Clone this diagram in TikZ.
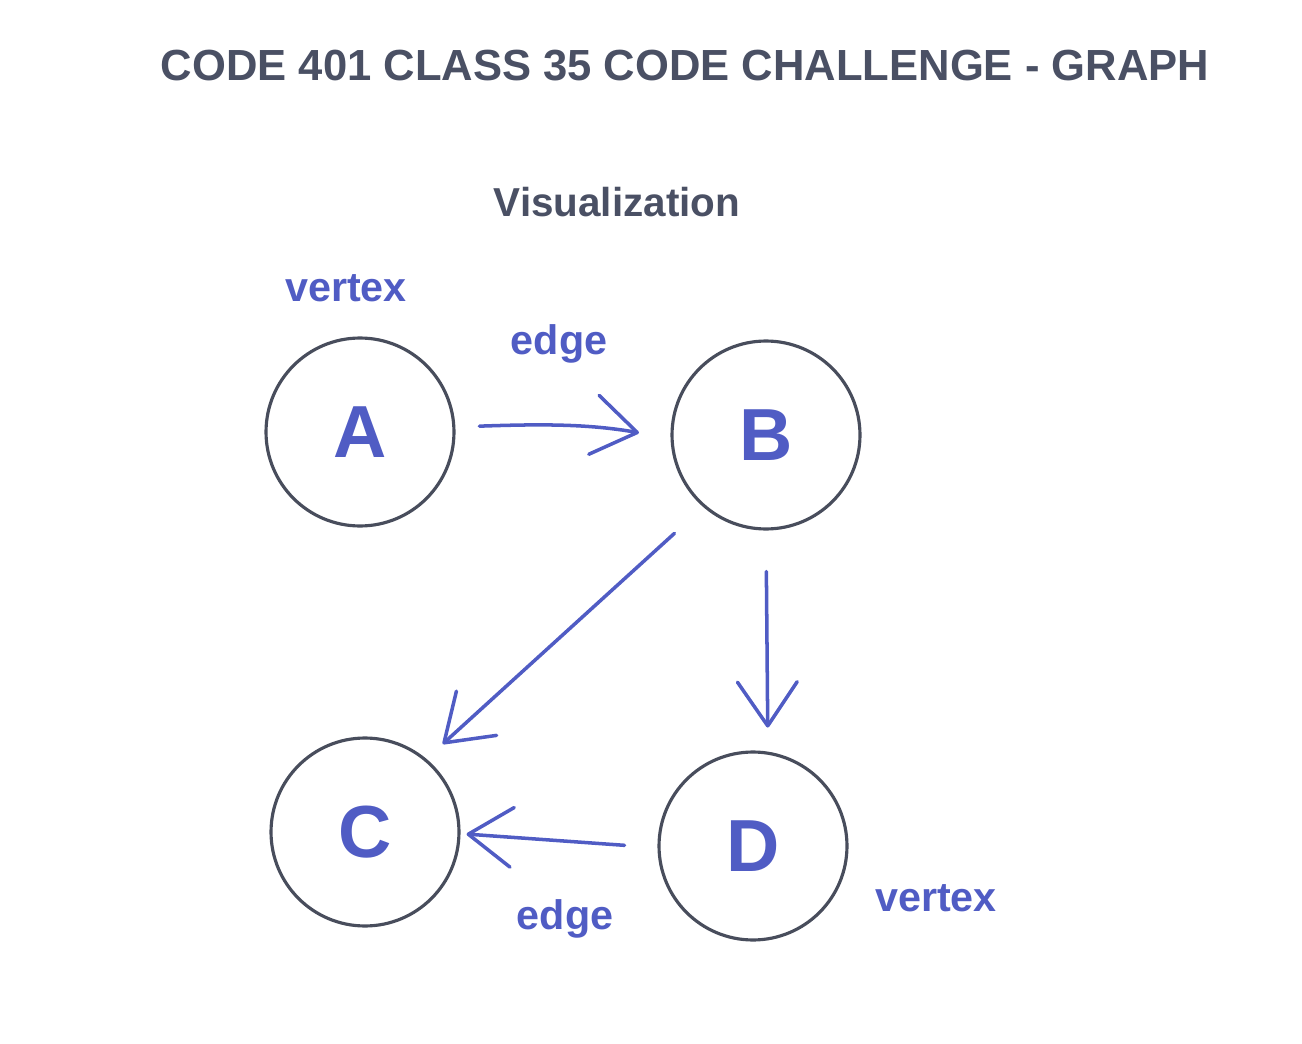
\documentclass[tikz,border=0pt]{standalone}
\usepackage{fontspec}
\setmainfont{Liberation Sans}
\usepackage{tikz}
\usetikzlibrary{arrows.meta}
\usepackage{xcolor}
\definecolor{inkgray}{RGB}{74,80,100}
\definecolor{ringgray}{RGB}{72,77,92}
\definecolor{penblue}{RGB}{80,92,196}

\tikzset{
  vertexnode/.style={circle,draw=ringgray,line width=1.8pt,minimum size=3.76cm,inner sep=0pt,
    text=penblue,font=\fontsize{42}{50}\selectfont\bfseries},
  note/.style={anchor=base,text=penblue,font=\fontsize{23.5}{28}\selectfont\bfseries},
  edgeline/.style={draw=penblue,line width=2pt,line cap=round,
    -{Straight Barb[length=25pt,width=34pt,line width=2pt,round]}}
}

\begin{document}
\begin{tikzpicture}[x=0.02cm,y=0.02cm]
        \useasboundingbox (0,0) rectangle (1302,-1044);
        \node [anchor=base,text=inkgray,font=\fontsize{24.8}{30}\selectfont\bfseries] (title) at (685,-81) {CODE 401 CLASS 35 CODE CHALLENGE - GRAPH};
        \node [anchor=base,text=inkgray,font=\fontsize{23}{28}\selectfont\bfseries] (vis) at (617,-217) {Visualization};

        \node [vertexnode] (1) at (360,-432) {A};
        \node [vertexnode] (2) at (766,-435) {B};
        \node [vertexnode] (3) at (365,-832) {C};
        \node [vertexnode] (4) at (753,-846) {D};

        \node [note] (v1) at (346,-301) {vertex};
        \node [note] (e1) at (559,-355) {edge};
        \node [note] (e2) at (565,-929) {edge};
        \node [note] (v2) at (936,-911) {vertex};

        \draw [edgeline,shorten <=24*0.02cm,shorten >=32*0.02cm] (1.3) to[out=2,in=170] (2.182);
        \draw [edgeline,shorten <=39*0.02cm,shorten >=22*0.02cm] (2.229) -- (3.50);
        \draw [edgeline,shorten <=41*0.02cm,shorten >=24*0.02cm] (2.270) -- (4.81);
        \draw [edgeline,shorten <=33*0.02cm,shorten >=6*0.02cm] (4.181) -- (3.-1);
    \end{tikzpicture}
\end{document}
